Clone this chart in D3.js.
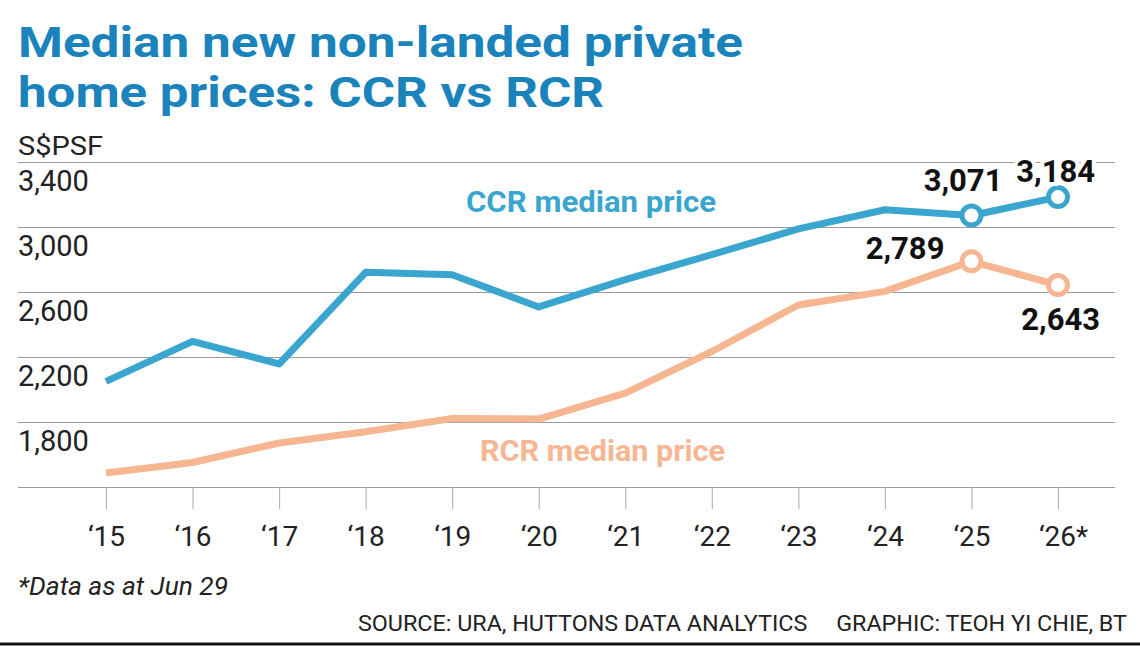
<!DOCTYPE html>
<html lang='en'>
  <head>
    <style type='text/css'>
      body {margin: 0; background-color: #fff;}
      #visualization {width: 1140px; height: 646px;}
      text {font-family: Roboto, 'Noto Sans', sans-serif;}
    </style>
  </head>
  <body>
    <div id='visualization'>
      <svg width='1140' height='646'></svg>
    </div>

    <script src='https://d3js.org/d3.v7.min.js'></script>
    <script type='text/javascript'>
        // data
        var years = ["\u201815", "\u201816", "\u201817", "\u201818", "\u201819", "\u201820",
                     "\u201821", "\u201822", "\u201823", "\u201824", "\u201825", "\u201826*"];
        var ccr = [2050, 2296, 2157, 2721, 2706, 2508, 2676, 2830, 2988, 3106, 3071, 3184];
        var rcr = [1486, 1551, 1671, 1740, 1822, 1818, 1978, 2234, 2520, 2604, 2789, 2643];
        var yTicks = [1400, 1800, 2200, 2600, 3000, 3400];

        var blue = "#3aa6cf", peach = "#f6b692", titleBlue = "#1a83bb";

        var svg = d3.select("svg");

        // scales
        var x = d3.scalePoint().domain(years).range([106, 1058]);
        var y = d3.scaleLinear().domain([1400, 3400]).range([487, 162]);

        // title
        var title = ["Median new non-landed private", "home prices: CCR vs RCR"];
        var titleWidths = [725, 586];
        svg.selectAll(".title").data(title)
          .enter().append("text")
            .attr("class", "title")
            .attr("x", 18)
            .attr("y", function(d, i) { return 57 + i * 50; })
            .attr("font-size", 43)
            .attr("font-weight", 700)
            .attr("fill", titleBlue)
            .attr("textLength", function(d, i) { return titleWidths[i]; })
            .attr("lengthAdjust", "spacingAndGlyphs")
            .text(function(d) { return d; });

        svg.append("text")
          .attr("x", 18).attr("y", 155)
          .attr("font-size", 25)
          .attr("fill", "#222")
          .attr("textLength", 85)
          .attr("lengthAdjust", "spacingAndGlyphs")
          .text("S$PSF");

        // gridlines + y labels
        var yAxis = d3.axisRight(y).tickValues(yTicks)
          .tickSize(1097)
          .tickFormat(function(d) { return d === 1400 ? "" : d3.format(",")(d); });

        var gy = svg.append("g")
          .attr("transform", "translate(18,0)")
          .call(yAxis);
        gy.select(".domain").remove();
        gy.selectAll(".tick line").attr("stroke", "#9a9a9a").attr("stroke-width", 1.2);
        gy.selectAll(".tick text")
          .attr("x", 0).attr("dy", 28)
          .attr("text-anchor", "start")
          .attr("font-size", 29)
          .attr("font-family", "Roboto, sans-serif")
          .attr("fill", "#222");

        // x axis
        var xAxis = d3.axisBottom(x).tickSize(22).tickPadding(17);
        var gx = svg.append("g")
          .attr("transform", "translate(0," + y(1400) + ")")
          .call(xAxis);
        gx.select(".domain").remove();
        gx.selectAll(".tick line").attr("stroke", "#b5b5b5").attr("stroke-width", 1.2);
        gx.selectAll(".tick text")
          .attr("font-size", 28)
          .attr("font-family", "Roboto, sans-serif")
          .attr("fill", "#222")
          .attr("dx", function(d) { return d.indexOf("*") > -1 ? 5 : 0; });

        // lines
        var line = d3.line()
          .x(function(d, i) { return x(years[i]); })
          .y(function(d) { return y(d); });

        svg.append("path").datum(rcr)
          .attr("d", line)
          .attr("fill", "none")
          .attr("stroke", peach)
          .attr("stroke-width", 7)
          .attr("stroke-linejoin", "round");

        svg.append("path").datum(ccr)
          .attr("d", line)
          .attr("fill", "none")
          .attr("stroke", blue)
          .attr("stroke-width", 7)
          .attr("stroke-linejoin", "round");

        // end markers
        var last = [10, 11];
        [[ccr, blue], [rcr, peach]].forEach(function(s) {
          svg.selectAll(null).data(last)
            .enter().append("circle")
              .attr("cx", function(i) { return x(years[i]); })
              .attr("cy", function(i) { return y(s[0][i]); })
              .attr("r", 9.5)
              .attr("fill", "#fff")
              .attr("stroke", s[1])
              .attr("stroke-width", 5);
        });

        // value labels
        var labels = [
          {v: ccr[10], i: 10, dx: 31, dy: -24},
          {v: ccr[11], i: 11, dx: 37, dy: -15},
          {v: rcr[10], i: 10, dx: -27, dy: -2},
          {v: rcr[11], i: 11, dx: 42, dy: 45}
        ];
        svg.selectAll(".vlabel").data(labels)
          .enter().append("text")
            .attr("class", "vlabel")
            .attr("x", function(d) { return x(years[d.i]) + d.dx; })
            .attr("y", function(d) { return y(d.v) + d.dy; })
            .attr("text-anchor", "end")
            .attr("font-size", 31)
            .attr("font-weight", 700)
            .attr("fill", "#111")
            .attr("stroke", "#fff")
            .attr("stroke-width", 8)
            .attr("paint-order", "stroke")
            .text(function(d) { return d3.format(",")(d.v); });

        // series labels
        svg.append("text")
          .attr("x", 466).attr("y", 212)
          .attr("font-size", 30).attr("font-weight", 700)
          .attr("fill", blue)
          .attr("textLength", 250)
          .attr("lengthAdjust", "spacingAndGlyphs")
          .text("CCR median price");

        svg.append("text")
          .attr("x", 480).attr("y", 461)
          .attr("font-size", 30).attr("font-weight", 700)
          .attr("fill", peach)
          .attr("textLength", 245)
          .attr("lengthAdjust", "spacingAndGlyphs")
          .text("RCR median price");

        // footer
        svg.append("text")
          .attr("x", 18).attr("y", 595)
          .attr("font-size", 25).attr("font-style", "italic")
          .attr("fill", "#222")
          .attr("textLength", 210)
          .attr("lengthAdjust", "spacingAndGlyphs")
          .text("*Data as at Jun 29");

        svg.append("text")
          .attr("x", 1127).attr("y", 631)
          .attr("text-anchor", "end")
          .attr("font-size", 22)
          .attr("fill", "#222")
          .attr("xml:space", "preserve")
          .attr("textLength", 769)
          .attr("lengthAdjust", "spacingAndGlyphs")
          .text("SOURCE: URA, HUTTONS DATA ANALYTICS     GRAPHIC: TEOH YI CHIE, BT");

        svg.append("line")
          .attr("x1", 0).attr("x2", 1140)
          .attr("y1", 644).attr("y2", 644)
          .attr("stroke", "#111").attr("stroke-width", 3);
    </script>
  </body>
</html>
